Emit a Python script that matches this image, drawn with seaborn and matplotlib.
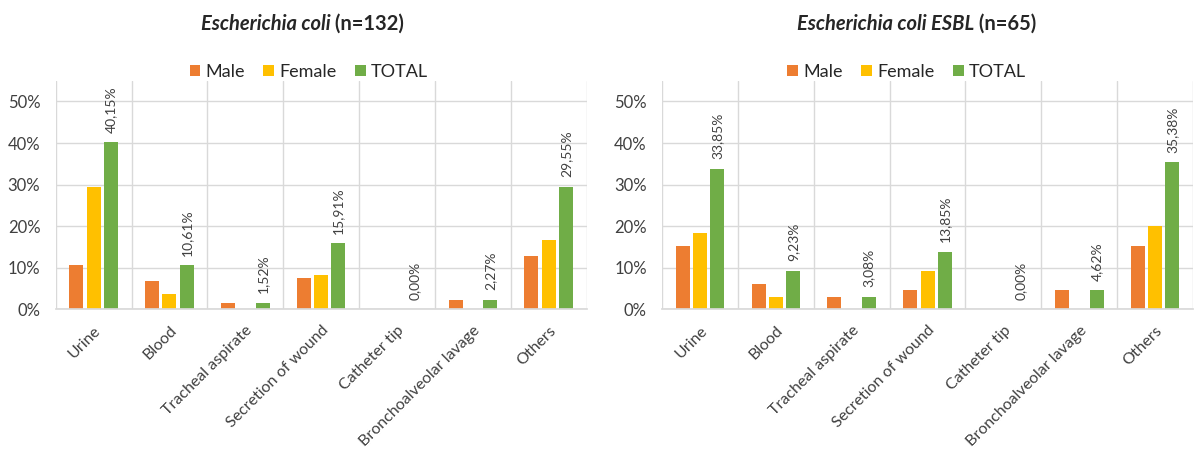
import matplotlib
matplotlib.use("Agg")
import matplotlib.pyplot as plt
import seaborn as sns
import pandas as pd
from matplotlib.patches import Patch
from matplotlib.ticker import FuncFormatter, FixedLocator

sites = ["Urine", "Blood", "Tracheal aspirate", "Secretion of wound",
         "Catheter tip", "Bronchoalveolar lavage", "Others"]
groups = ["Male", "Female", "TOTAL"]

ecoli_male = [10.61, 6.82, 1.52, 7.58, 0.00, 2.27, 12.88]
ecoli_female = [29.55, 3.79, 0.00, 8.33, 0.00, 0.00, 16.67]
ecoli_total = [40.15, 10.61, 1.52, 15.91, 0.00, 2.27, 29.55]

esbl_male = [15.38, 6.15, 3.08, 4.62, 0.00, 4.62, 15.38]
esbl_female = [18.46, 3.08, 0.00, 9.23, 0.00, 0.00, 20.00]
esbl_total = [33.85, 9.23, 3.08, 13.85, 0.00, 4.62, 35.38]

titles_italic = ["Escherichia coli", "Escherichia coli ESBL"]
titles_rest = [" (n=132)", " (n=65)"]

colors = ["#ED7D31", "#FFC000", "#70AD47"]

sns.set_theme(style="white")
plt.rcParams["font.family"] = ["Lato", "DejaVu Sans"]

fig = plt.figure(figsize=(11.97, 4.54), dpi=100)
ax_pos = [[0.0465, 0.3183, 0.4436, 0.504], [0.5531, 0.3183, 0.4436, 0.504]]
title_x = [0.2527, 0.7658]
legend_x = [0.2581, 0.7575]

datasets = [(ecoli_male, ecoli_female, ecoli_total), (esbl_male, esbl_female, esbl_total)]

for i, (m, f, t) in enumerate(datasets):
    ax = fig.add_axes(ax_pos[i])
    df = pd.DataFrame({
        "site": sites * 3,
        "group": [g for g in groups for _ in sites],
        "value": list(m) + list(f) + list(t),
    })
    sns.barplot(data=df, x="site", y="value", hue="group", hue_order=groups,
                order=sites, palette=colors, saturation=1, width=0.684, gap=0.19,
                linewidth=0, legend=False, ax=ax, errorbar=None)
    ax.set_xlim(-0.5, len(sites) - 0.5)
    ax.set_ylim(0, 55)
    ax.yaxis.set_major_locator(FixedLocator([0, 10, 20, 30, 40, 50]))
    ax.yaxis.set_major_formatter(FuncFormatter(lambda v, p: f"{v:.0f}%"))
    ax.xaxis.set_minor_locator(FixedLocator([k - 0.5 for k in range(len(sites) + 1)]))
    ax.grid(True, which="major", axis="y", color="#D9D9D9", linewidth=1)
    ax.grid(True, which="minor", axis="x", color="#D9D9D9", linewidth=1)
    ax.set_axisbelow(True)
    for s in ["left", "right", "top"]:
        ax.spines[s].set_visible(False)
    ax.spines["bottom"].set_color("#D9D9D9")
    ax.set_xlabel("")
    ax.set_ylabel("")
    ax.tick_params(axis="both", which="both", length=0, colors="#404040")
    ax.tick_params(axis="y", labelsize=12, pad=11)
    ax.tick_params(axis="x", labelsize=11.5, pad=10)
    for lab in ax.get_xticklabels():
        lab.set_rotation(45)
        lab.set_ha("right")
        lab.set_va("top")
        lab.set_rotation_mode("anchor")
    total_container = ax.containers[2]
    ax.bar_label(total_container,
                 labels=[f"{v:.2f}%".replace(".", ",") for v in t],
                 rotation=90, padding=7, fontsize=10, color="#404040")
    handles = [Patch(facecolor=c, edgecolor="none") for c in colors]
    fig.legend(handles, groups, loc="center", bbox_to_anchor=(legend_x[i], 0.842),
               ncol=3, frameon=False, fontsize=13, handlelength=0.6,
               handleheight=0.6, handletextpad=0.3, columnspacing=1.0,
               labelcolor="#262626")

# titles: bold italic species name + bold count
fig.canvas.draw()
renderer = fig.canvas.get_renderer()
for i in range(2):
    t1 = fig.text(0, 0.947, titles_italic[i], fontsize=14.5, fontweight="bold",
                  fontstyle="italic", color="#262626", va="center", ha="left")
    t2 = fig.text(0, 0.947, titles_rest[i], fontsize=14.5, fontweight="bold",
                  color="#262626", va="center", ha="left")
    w1 = t1.get_window_extent(renderer).width / fig.bbox.width
    w2 = t2.get_window_extent(renderer).width / fig.bbox.width
    x0 = title_x[i] - (w1 + w2) / 2
    t1.set_x(x0)
    t2.set_x(x0 + w1)

fig.savefig("out.png", dpi=100)
